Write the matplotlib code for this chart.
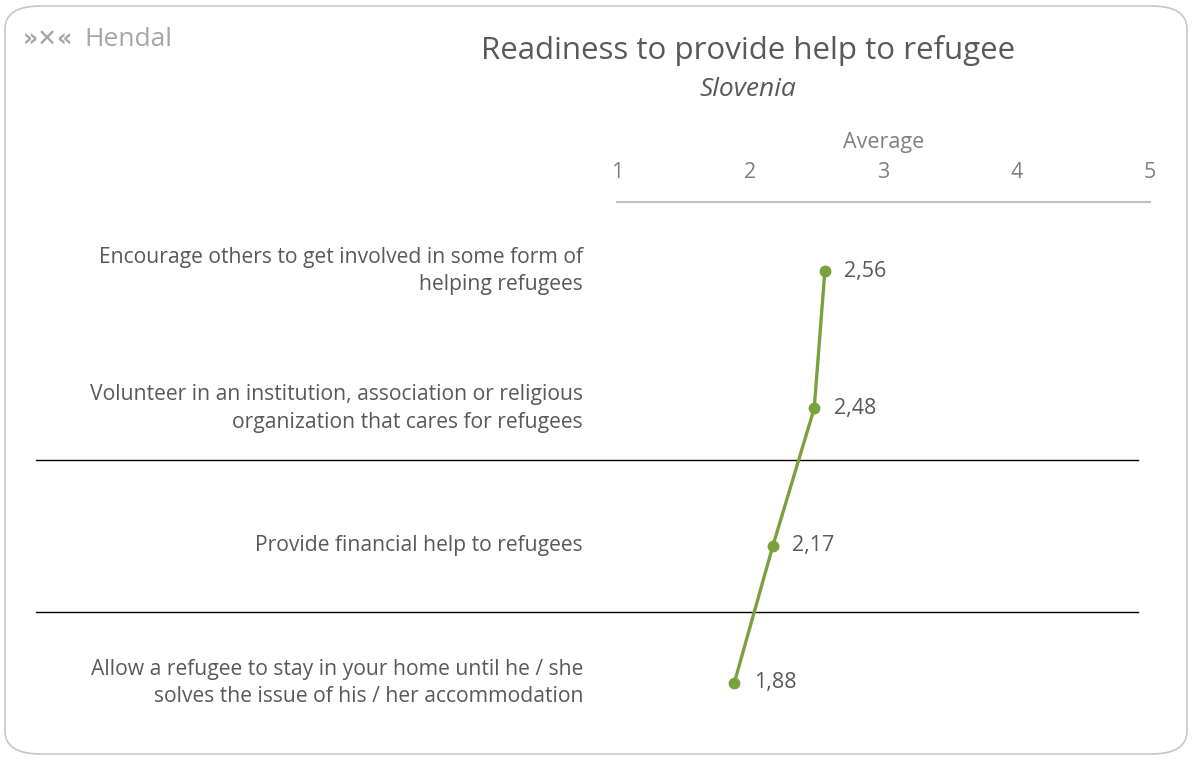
import matplotlib.pyplot as plt
from matplotlib.patches import FancyBboxPatch
from matplotlib.transforms import blended_transform_factory

# data
categories = [
    "Encourage others to get involved in some form of\nhelping refugees",
    "Volunteer in an institution, association or religious\norganization that cares for refugees",
    "Provide financial help to refugees",
    "Allow a refugee to stay in your home until he / she\nsolves the issue of his / her accommodation",
]
averages = [2.56, 2.48, 2.17, 1.88]
ticks = [1, 2, 3, 4, 5]
separators = [1.377, 2.484]

green = "#7aa23c"
txt = "#595959"

plt.rcParams['font.family'] = ['Open Sans', 'DejaVu Sans']

fig = plt.figure(figsize=(11.92, 7.6), dpi=100)

# rounded frame
frame = FancyBboxPatch((5 / 1192, 6 / 760), 1182 / 1192, 748 / 760,
                       boxstyle="round,pad=0,rounding_size=0.03",
                       transform=fig.transFigure, facecolor="white",
                       edgecolor="#c8c8c8", linewidth=1.2, zorder=-5)
fig.patches.append(frame)

ax = fig.add_axes([617 / 1192, 0.011, 533 / 1192, 0.7226])
ax.set_facecolor("none")
ypos = list(range(len(categories)))

ax.plot(averages, ypos, color=green, linewidth=2.4, marker="o", markersize=7.5, zorder=3)
for v, y in zip(averages, ypos):
    ax.annotate(f"{v:.2f}".replace(".", ","), (v, y), xytext=(14, 0),
                textcoords="offset points", va="center", ha="left",
                fontsize=15.5, color=txt)

ax.set_xlim(1, 5)
ax.set_ylim(3.5, -0.5)
ax.set_xticks(ticks)
ax.set_xticklabels([str(t) for t in ticks])
ax.xaxis.tick_top()
ax.tick_params(axis="x", length=0, pad=14, labelsize=15.5, labelcolor="#808080")
ax.set_yticks([])
ax.xaxis.set_label_position("top")
ax.set_xlabel("Average", fontsize=15.5, color="#808080", labelpad=2)
ax.xaxis.set_label_coords(0.5, 1 + 54 / (0.7226 * 760), transform=ax.transAxes)
for s in ["left", "right", "bottom"]:
    ax.spines[s].set_visible(False)
ax.spines["top"].set_color("#bfbfbf")
ax.spines["top"].set_linewidth(1.5)

# category labels
tr = blended_transform_factory(fig.transFigure, ax.transData)
for c, y in zip(categories, ypos):
    ax.text(583 / 1192, y, c, transform=tr, ha="right", va="center",
            fontsize=15.2, color=txt, linespacing=1.4)

# separator lines
for s in separators:
    ax.plot([36 / 1192, 1138 / 1192], [s, s], transform=tr, color="black",
            linewidth=1, clip_on=False)

fig.text(748 / 1192, 1 - 50 / 760, "Readiness to provide help to refugee",
         ha="center", va="center", fontsize=22.5, color=txt)
fig.text(748 / 1192, 1 - 90 / 760, "Slovenia", ha="center", va="center",
         fontsize=19, color=txt, style="italic")

# logo
fig.text(23 / 1192, 1 - 40 / 760, "»✕«", ha="left", va="center",
         fontsize=17, color="#a6a6a6", fontweight="bold",
         family=["DejaVu Sans"])
fig.text(84 / 1192, 1 - 40 / 760, "Hendal", ha="left", va="center",
         fontsize=19, color="#a6a6a6")

fig.savefig("out.png", dpi=100)
